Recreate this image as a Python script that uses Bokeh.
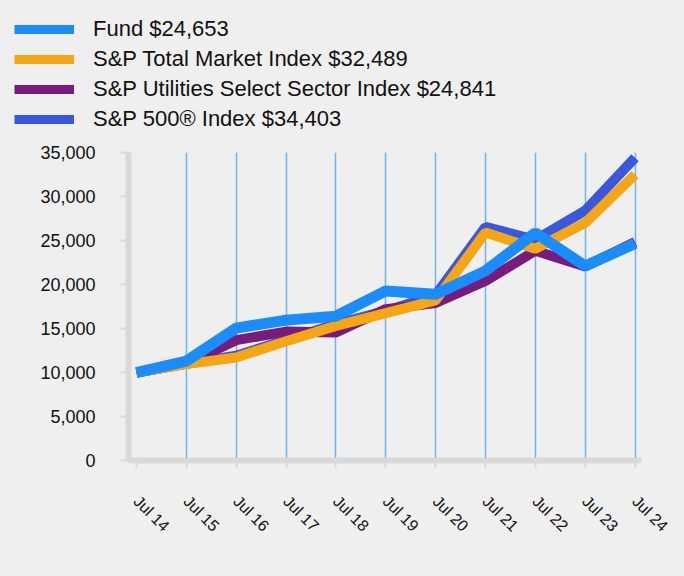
import math
from bokeh.plotting import figure
from bokeh.layouts import column
from bokeh.models import Legend, LegendItem, FixedTicker, NumeralTickFormatter, Range1d
from bokeh.embed import file_html
from bokeh.resources import INLINE

years = ["Jul 14", "Jul 15", "Jul 16", "Jul 17", "Jul 18", "Jul 19", "Jul 20", "Jul 21", "Jul 22", "Jul 23", "Jul 24"]
fund = [10000, 11300, 15050, 15950, 16400, 19270, 18900, 21550, 25880, 22100, 24653]
total_market = [10000, 10950, 11700, 13550, 15300, 16750, 18200, 25900, 24060, 27000, 32489]
utilities = [10000, 11000, 13680, 14650, 14550, 17200, 17900, 20400, 23830, 22050, 24841]
sp500 = [10000, 11000, 11900, 13700, 15500, 17000, 18800, 26550, 25080, 28400, 34403]
labels = ["Fund $24,653", "S&P Total Market Index $32,489",
          "S&P Utilities Select Sector Index $24,841", "S&P 500® Index $34,403"]
colors = ["#1a8cfc", "#f4a614", "#781b7e", "#3a57e0"]
widths = [11, 10, 10, 10]

x = list(range(len(years)))
BG = "#efefef"
NAN = float("nan")

# ---- legend strip ----
leg = figure(width=684, height=134, output_backend="svg", toolbar_location=None,
             x_range=Range1d(0, 1), y_range=Range1d(0, 1),
             x_axis_location=None, y_axis_location=None,
             background_fill_color=BG, border_fill_color=BG,
             min_border_left=0, min_border_right=0, min_border_top=0, min_border_bottom=0)
leg.frame_align = False
leg.outline_line_color = None
leg.xgrid.visible = False
leg.ygrid.visible = False
items = []
for lab, col, w in zip(labels, colors, widths):
    r = leg.line([NAN], [NAN], line_color=col, line_width=9)
    items.append(LegendItem(label=lab, renderers=[r]))
legend = Legend(items=items, location=(14, 0), orientation="vertical")
legend.margin = 0
legend.padding = 0
legend.spacing = 0
legend.border_line_color = None
legend.background_fill_alpha = 0
legend.glyph_width = 60
legend.glyph_height = 30
legend.label_height = 30
legend.label_standoff = 19
legend.label_text_font = "Liberation Sans"
legend.label_text_font_size = "22px"
legend.label_text_color = "#111111"
leg.add_layout(legend, "center")

# ---- main chart ----
p = figure(width=684, height=442, output_backend="svg", toolbar_location=None,
           x_range=Range1d(-0.16, 10.13), y_range=Range1d(0, 35000),
           background_fill_color=BG, border_fill_color=BG,
           min_border_left=128, min_border_right=43, min_border_top=18, min_border_bottom=116)
p.frame_align = False
p.outline_line_color = None

p.line(x, sp500, line_color=colors[3], line_width=widths[3])
p.line(x, utilities, line_color=colors[2], line_width=widths[2])
p.line(x, total_market, line_color=colors[1], line_width=widths[1])
p.line(x, fund, line_color=colors[0], line_width=widths[0])

p.ygrid.grid_line_color = None
p.xgrid.ticker = FixedTicker(ticks=list(range(1, 11)))
p.xgrid.grid_line_color = "#6db2f6"
p.xgrid.grid_line_width = 1.5

p.xaxis.ticker = FixedTicker(ticks=x)
p.xaxis.major_label_overrides = {i: years[i] for i in x}
p.yaxis.ticker = FixedTicker(ticks=list(range(0, 35001, 5000)))
p.yaxis.formatter = NumeralTickFormatter(format="0,0")
for ax in (p.xaxis[0], p.yaxis[0]):
    ax.axis_line_color = "#d9d9d9"
    ax.axis_line_width = 6
    ax.major_tick_line_color = "#d9d9d9"
    ax.major_tick_line_width = 2
    ax.major_tick_in = 0
    ax.major_tick_out = 8
    ax.minor_tick_line_color = None
    ax.major_label_text_font = "Liberation Sans"
    ax.major_label_text_color = "#111111"
p.yaxis.major_label_text_font_size = "18px"
p.yaxis.major_label_standoff = 25
p.xaxis.major_label_text_font_size = "16px"
p.xaxis.major_label_orientation = -math.pi / 4
p.xaxis.major_label_standoff = 30

layout = column(leg, p, spacing=0, styles={"background-color": BG})
html = file_html(layout, INLINE)
html = html.replace("</head>", "<style>html,body{background:#efefef;margin:0;}</style></head>", 1)
open("out.html", "w").write(html)
